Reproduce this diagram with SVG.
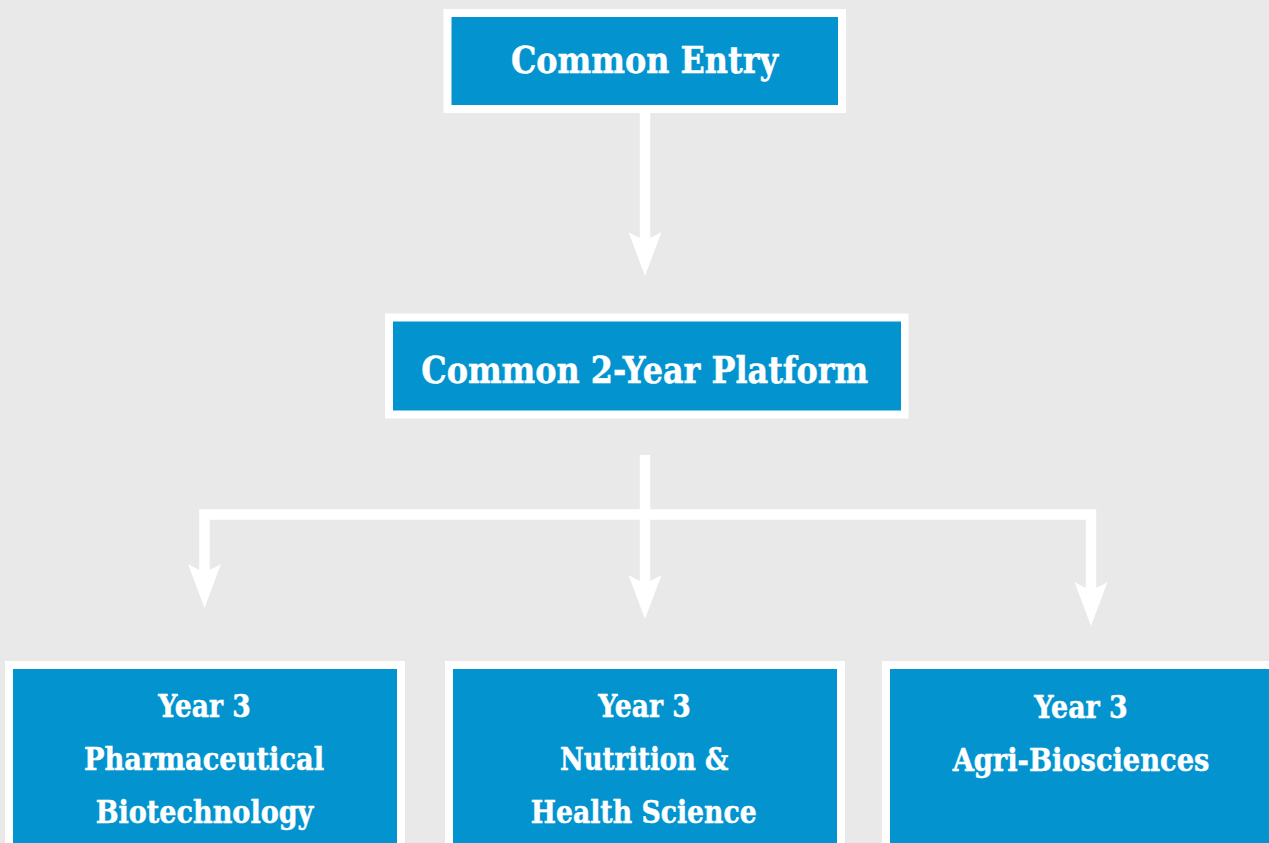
<svg xmlns="http://www.w3.org/2000/svg" xmlns:xlink="http://www.w3.org/1999/xlink" width="1269" height="843" viewBox="0 0 1269 843">
<defs>
<style>
.frame{fill:#ffffff}
.box{fill:#0394d0}
.lbl{font-family:"DejaVu Serif","Liberation Serif",serif;font-weight:bold;fill:#ffffff;stroke:#ffffff;stroke-width:0.5;text-anchor:middle}
.big{font-size:37px}
.sm{font-size:32px}
.wire{fill:none;stroke:#ffffff;stroke-width:10.5;stroke-linejoin:miter;stroke-linecap:butt}
.head{fill:#ffffff}
</style>
<path id="ah" d="M0 0 L-16.5 -44 Q-6 -38 0 -36 Q6 -38 16.5 -44 Z"/>
</defs>
<rect x="0" y="0" width="1269" height="843" fill="#e9e9e9"/>

<g id="connectors">
<path class="wire" d="M645 113 V242"/>
<use xlink:href="#ah" href="#ah" class="head" x="645" y="276"/>
<path class="wire" d="M645 455 V585"/>
<path class="wire" d="M204.5 573 V514.5 H1091 V592"/>
<use xlink:href="#ah" href="#ah" class="head" x="204.5" y="608"/>
<use xlink:href="#ah" href="#ah" class="head" x="645" y="619"/>
<use xlink:href="#ah" href="#ah" class="head" x="1091" y="626"/>
</g>

<g id="common-entry">
<rect class="frame" x="443.5" y="9" width="402.5" height="104"/>
<rect class="box" x="451.5" y="17" width="386.5" height="88"/>
<text class="lbl big" x="644.5" y="72.5" textLength="267" lengthAdjust="spacingAndGlyphs">Common Entry</text>
</g>

<g id="common-platform">
<rect class="frame" x="385" y="313.5" width="523.5" height="105"/>
<rect class="box" x="393" y="321.5" width="508" height="89"/>
<text class="lbl big" x="644.8" y="382.5" textLength="447" lengthAdjust="spacingAndGlyphs">Common 2-Year Platform</text>
</g>

<g id="pharma">
<rect class="frame" x="5" y="661" width="400" height="200"/>
<rect class="box" x="13" y="669" width="384" height="200"/>
<text class="lbl sm" x="204.5" y="716.7" textLength="92.7" lengthAdjust="spacingAndGlyphs">Year 3</text>
<text class="lbl sm" x="204" y="770" textLength="240" lengthAdjust="spacingAndGlyphs">Pharmaceutical</text>
<text class="lbl sm" x="204.5" y="823.3" textLength="217.7" lengthAdjust="spacingAndGlyphs">Biotechnology</text>
</g>

<g id="nutrition">
<rect class="frame" x="445" y="661" width="400" height="200"/>
<rect class="box" x="453" y="669" width="384" height="200"/>
<text class="lbl sm" x="644.5" y="716.7" textLength="92.7" lengthAdjust="spacingAndGlyphs">Year 3</text>
<text class="lbl sm" x="644.2" y="770" textLength="168.3" lengthAdjust="spacingAndGlyphs">Nutrition &amp;</text>
<text class="lbl sm" x="643.7" y="823.3" textLength="226" lengthAdjust="spacingAndGlyphs">Health Science</text>
</g>

<g id="agri">
<rect class="frame" x="882" y="661" width="400" height="200"/>
<rect class="box" x="890" y="669" width="384" height="200"/>
<text class="lbl sm" x="1081" y="717.5" textLength="93.7" lengthAdjust="spacingAndGlyphs">Year 3</text>
<text class="lbl sm" x="1081" y="771" textLength="256.7" lengthAdjust="spacingAndGlyphs">Agri-Biosciences</text>
</g>
</svg>
